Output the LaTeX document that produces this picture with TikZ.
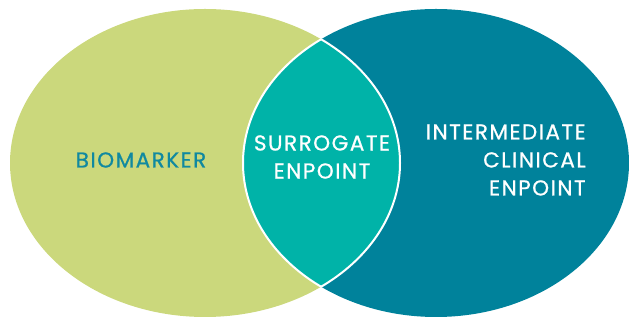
\documentclass[tikz,border=0pt]{standalone}
\usepackage{fontspec}
\newfontfamily\vennfont{Poppins}[LetterSpace=7,FakeBold=0.8]
\definecolor{biogreen}{HTML}{CBD87C}
\definecolor{clinteal}{HTML}{00829B}
\definecolor{surteal}{HTML}{00B3A8}
\definecolor{biotext}{HTML}{1089A0}
\tikzset{
	vtext/.style={align=center,font=\vennfont\fontsize{21.5}{28}\selectfont},
	bioset/.style={x radius=195,y radius=154},
	clinset/.style={x radius=193,y radius=154}
}
\begin{document}
\begin{tikzpicture}[line width=2pt,x=1pt,y=1pt]
	\useasboundingbox (0,0) rectangle (629,320);
	\path (205,157) coordinate (B)
	(436,157) coordinate (C);
	\fill[biogreen] (B) ellipse[bioset];
	\fill[clinteal] (C) ellipse[clinset];
	\begin{scope}
		\clip (B) ellipse[bioset];
		\fill[surteal] (C) ellipse[clinset];
		\draw[white] (C) ellipse[clinset];
	\end{scope}
	\begin{scope}
		\clip (C) ellipse[clinset];
		\draw[white] (B) ellipse[bioset];
	\end{scope}
	\node[vtext,text=biotext] (bio) at (141,160) {BIOMARKER};
	\node[vtext,text=white] (sur) at (322,163) {SURROGATE\\ENPOINT};
	\node[vtext,text=white,align=right,anchor=east] (clin) at (590,160) {INTERMEDIATE\\CLINICAL\\ENPOINT};
\end{tikzpicture}
\end{document}
